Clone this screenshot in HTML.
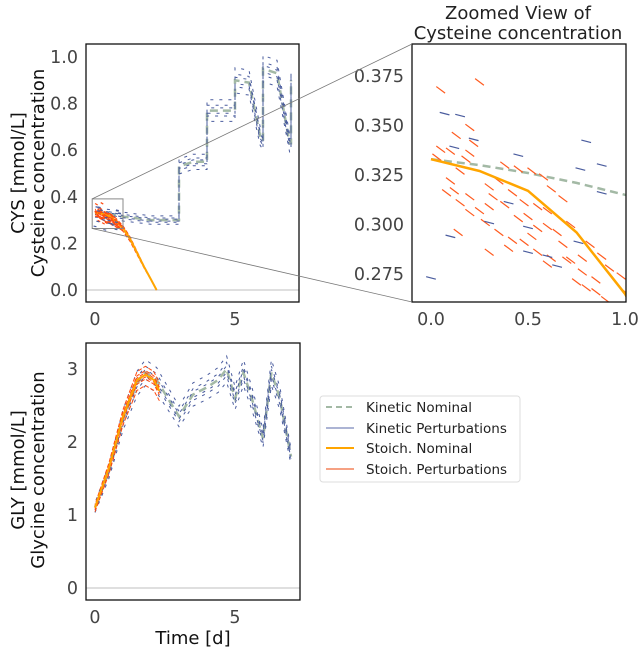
<!DOCTYPE html>
<html><head><meta charset="utf-8"><style>
html,body{margin:0;padding:0;background:#fff;overflow:hidden;width:640px;height:651px;}
svg{display:block;font-family:"DejaVu Sans","Liberation Sans",sans-serif;}
.tick{font-size:17.5px;fill:#444;}
</style></head><body>
<svg id="fig" width="640" height="651" viewBox="0 0 640 651" xmlns="http://www.w3.org/2000/svg">
<text x="518" y="19" text-anchor="middle" font-size="18" fill="#222">Zoomed View of</text>
<text x="518" y="39" text-anchor="middle" font-size="18" fill="#222">Cysteine concentration</text>
<g id="cys"></g>
<g id="zoom"></g>
<g id="gly"></g>
<g id="legend">
<rect x="320" y="396" width="200" height="86" rx="3" fill="#fff" stroke="#ddd"/>
<g><line x1="326" y1="407" x2="354" y2="407" stroke="#a3b9a5" stroke-width="2" stroke-dasharray="6 4"/><text x="366" y="412" font-size="13.5" fill="#222">Kinetic Nominal</text></g>
<g><line x1="326" y1="428" x2="354" y2="428" stroke="#5a6aa8" stroke-width="1"/><text x="366" y="433" font-size="13.5" fill="#222">Kinetic Perturbations</text></g>
<g><line x1="326" y1="448" x2="354" y2="448" stroke="#ffa500" stroke-width="2"/><text x="366" y="453" font-size="13.5" fill="#222">Stoich. Nominal</text></g>
<g><line x1="326" y1="469" x2="354" y2="469" stroke="#f4825a" stroke-width="1.5"/><text x="366" y="474" font-size="13.5" fill="#222">Stoich. Perturbations</text></g>
</g>
</svg>
<script>
// ---- data ----
const cysKinT = [0,0.25,0.5,0.75,1,2,3,3,3.5,4,4,4.5,5,5,5.5,5.9,6,6,6.5,6.95,7,7];
const cysKinV = [0.333,0.330,0.326,0.321,0.315,0.30,0.30,0.53,0.55,0.55,0.77,0.77,0.77,0.90,0.89,0.66,0.64,0.95,0.93,0.63,0.63,0.90];
const cysStoT = [0,0.25,0.5,0.75,1,1.25,1.5,1.75,2,2.2];
const cysStoV = [0.333,0.327,0.317,0.296,0.265,0.22,0.16,0.10,0.045,0];
const glyKinT = [0,0.5,1,1.5,1.8,2.2,2.6,3.0,3.5,4.0,4.4,4.7,5.0,5.3,5.6,6.0,6.3,6.6,7.0];
const glyKinV = [1.1,1.6,2.3,2.8,2.95,2.85,2.6,2.35,2.65,2.75,2.85,3.0,2.6,2.95,2.6,2.05,2.95,2.6,1.8];
const glyStoT = [0,0.5,1,1.5,1.8,2.1,2.3];
const glyStoV = [1.1,1.65,2.35,2.85,2.92,2.85,2.7];
const kinFactors = [0.94,0.97,1.03,1.06,0.985,1.015];
const stoFactors = [0.95,0.98,1.02,1.04,0.99,1.01];
const zoomStoT = [0.05,0.25,0.2,0.13,0.22,0.05,0.1,0.2,0.18,0.03,0.12,0.2,0.32,0.38,0.45,0.52,0.58,0.62,0.3,0.35,0.42,0.48,0.55,0.6,0.68,0.25,0.3,0.38,0.45,0.5,0.55,0.6,0.65,0.72,0.15,0.2,0.28,0.35,0.42,0.48,0.55,0.62,0.7,0.78,0.82,0.88,0.92,0.98,0.75,0.8,0.85,0.9,0.95,1.0,0.68,0.72,0.78,0.85,0.1,0.15,0.08,0.14,0.4,0.52,0.6,0.3];
const zoomStoV = [0.368,0.372,0.349,0.345,0.341,0.338,0.337,0.336,0.333,0.334,0.317,0.314,0.314,0.33,0.328,0.327,0.324,0.318,0.319,0.322,0.316,0.311,0.309,0.307,0.313,0.307,0.309,0.31,0.303,0.304,0.298,0.299,0.296,0.3,0.311,0.306,0.301,0.296,0.292,0.291,0.286,0.283,0.282,0.283,0.29,0.284,0.278,0.274,0.271,0.268,0.266,0.262,0.258,0.266,0.29,0.282,0.276,0.272,0.322,0.327,0.316,0.296,0.288,0.294,0.28,0.286];
const zoomKinT = [0.07,0.15,0.22,0.12,0.45,0.8,0.77,0.88,0.88,0.4,0.3,0.1,0.5,0.6,0.65,0.0,0.75,0.35,0.5,0.76];
const zoomKinV = [0.356,0.355,0.343,0.339,0.335,0.342,0.328,0.330,0.316,0.311,0.301,0.294,0.286,0.284,0.279,0.273,0.260,0.258,0.2985,0.291];

const NS="http://www.w3.org/2000/svg";
function mk(tag,attrs,parent){const e=document.createElementNS(NS,tag);for(const k in attrs)e.setAttribute(k,attrs[k]);parent.appendChild(e);return e;}
function pathOf(T,V,sx,sy,f){return T.map((t,i)=>(i?'L':'M')+sx(t).toFixed(1)+','+sy(V[i]*f).toFixed(1)).join('');}

function panel(g,box,sx,sy,xt,xtl,yt,ytl,clipId){
  const svg=document.getElementById('fig');
  const cp=mk('clipPath',{id:clipId},svg);mk('rect',{x:box[0],y:box[1],width:box[2]-box[0],height:box[3]-box[1]},cp);
  const inner=mk('g',{'clip-path':'url(#'+clipId+')'},g);
  xt.forEach((v,i)=>{const t=mk('text',{x:sx(v),y:box[3]+23,'text-anchor':'middle',class:'tick'},g);t.textContent=xtl[i];
    
    });
  yt.forEach((v,i)=>{const t=mk('text',{x:box[0]-8,y:sy(v)+6,'text-anchor':'end',class:'tick'},g);t.textContent=ytl[i];
    
    });
  mk('rect',{x:box[0],y:box[1],width:box[2]-box[0],height:box[3]-box[1],fill:'none',stroke:'#111','stroke-width':1.3},g);
  return inner;
}
function drawSeries(inner,sx,sy,kT,kV,sT,sV,pw){
  let p=mk('path',{d:pathOf(kT,kV,sx,sy,1),fill:'none',stroke:'#a3b9a5','stroke-width':2.5,'stroke-dasharray':'8 5'},inner);
  
  
  kinFactors.forEach((f,k)=>{const q=mk('path',{d:pathOf(kT,kV,sx,sy,f),fill:'none',stroke:'#4a5c9e','stroke-width':pw,'stroke-dasharray':'3 6','stroke-dashoffset':k*2},inner);
    
    });
  stoFactors.forEach((f,k)=>{const q=mk('path',{d:pathOf(sT,sV,sx,sy,f),fill:'none',stroke:'#ff4a10','stroke-width':pw,'stroke-dasharray':'4 2','stroke-dashoffset':k},inner);
    
    });
  p=mk('path',{d:pathOf(sT,sV,sx,sy,1),fill:'none',stroke:'#ffa500','stroke-width':2},inner);
  
  
}
function ticks(inner,T,V,sx,sy,color,len,dx,dy){
  T.forEach((t,i)=>{const x=sx(t),y=sy(V[i]);const s=mk('line',{x1:x-dx*len/2,y1:y-dy*len/2,x2:x+dx*len/2,y2:y+dy*len/2,stroke:color,'stroke-width':1.2},inner);
    
    });
}
function ylabel(g,x,y,txt,name){const l=mk('text',{transform:'translate('+x+','+y+') rotate(-90)','text-anchor':'middle','font-size':18,fill:'#111'},g);l.textContent=txt;
  
  }

// CYS panel
const cx=t=>95+28*t, cy=v=>290-233*v;
const gC=document.getElementById('cys');
const cIn=panel(gC,[86,44,299,302],cx,cy,[0,5],['0','5'],[0,0.2,0.4,0.6,0.8,1.0],['0.0','0.2','0.4','0.6','0.8','1.0'],'cc');
mk('line',{x1:86,x2:299,y1:cy(0),y2:cy(0),stroke:'#ccc','stroke-width':1.3},cIn);
drawSeries(cIn,cx,cy,cysKinT,cysKinV,cysStoT,cysStoV,1);
ticks(cIn,zoomStoT,zoomStoV,cx,cy,'#ff4a10',3,0.85,0.5);
ticks(cIn,zoomKinT,zoomKinV,cx,cy,'#4a5c9e',3,0.95,0.2);
const zr=mk('rect',{x:cx(-0.1),y:cy(0.391),width:cx(1)-cx(-0.1),height:cy(0.264)-cy(0.391),fill:'none',stroke:'#888','stroke-width':1},gC);


mk('line',{x1:cx(-0.1),y1:cy(0.391),x2:412,y2:44,stroke:'#777','stroke-width':0.8},document.getElementById('fig'));
mk('line',{x1:cx(-0.1),y1:cy(0.264),x2:412,y2:302,stroke:'#777','stroke-width':0.8},document.getElementById('fig'));
ylabel(gC,24,173,'CYS [mmol/L]','y-axis-title-cys');
ylabel(gC,44,173,'Cysteine concentration','y-axis-subtitle-cys');

// Zoom panel
const zx=t=>431+194*t, zy=v=>76+(0.375-v)*1980;
const gZ=document.getElementById('zoom');
const zIn=panel(gZ,[412,44,626,302],zx,zy,[0,0.5,1],['0.0','0.5','1.0'],[0.275,0.3,0.325,0.35,0.375],['0.275','0.300','0.325','0.350','0.375'],'zc');
let p=mk('path',{d:pathOf(cysKinT,cysKinV,zx,zy,1),fill:'none',stroke:'#a3b9a5','stroke-width':2.5,'stroke-dasharray':'8 5'},zIn);


ticks(zIn,zoomStoT,zoomStoV,zx,zy,'#ff5a1e',11,0.8,0.6);
ticks(zIn,zoomKinT,zoomKinV,zx,zy,'#4a5c9e',10,0.97,0.25);
p=mk('path',{d:pathOf(cysStoT,cysStoV,zx,zy,1),fill:'none',stroke:'#ffa500','stroke-width':2.5},zIn);



// GLY panel
const gx=t=>95+28*t, gy=v=>588-73*v;
const gG=document.getElementById('gly');
const gIn=panel(gG,[86,343,300,600],gx,gy,[0,5],['0','5'],[0,1,2,3],['0','1','2','3'],'gc');
mk('line',{x1:86,x2:300,y1:gy(0),y2:gy(0),stroke:'#ccc','stroke-width':1.3},gIn);
drawSeries(gIn,gx,gy,glyKinT,glyKinV,glyStoT,glyStoV,1);
ylabel(gG,24,470,'GLY [mmol/L]','y-axis-title-gly');
ylabel(gG,44,470,'Glycine concentration','y-axis-subtitle-gly');
const xl=mk('text',{x:193,y:644,'text-anchor':'middle','font-size':18,fill:'#111'},gG);xl.textContent='Time [d]';


</script>
</body></html>
